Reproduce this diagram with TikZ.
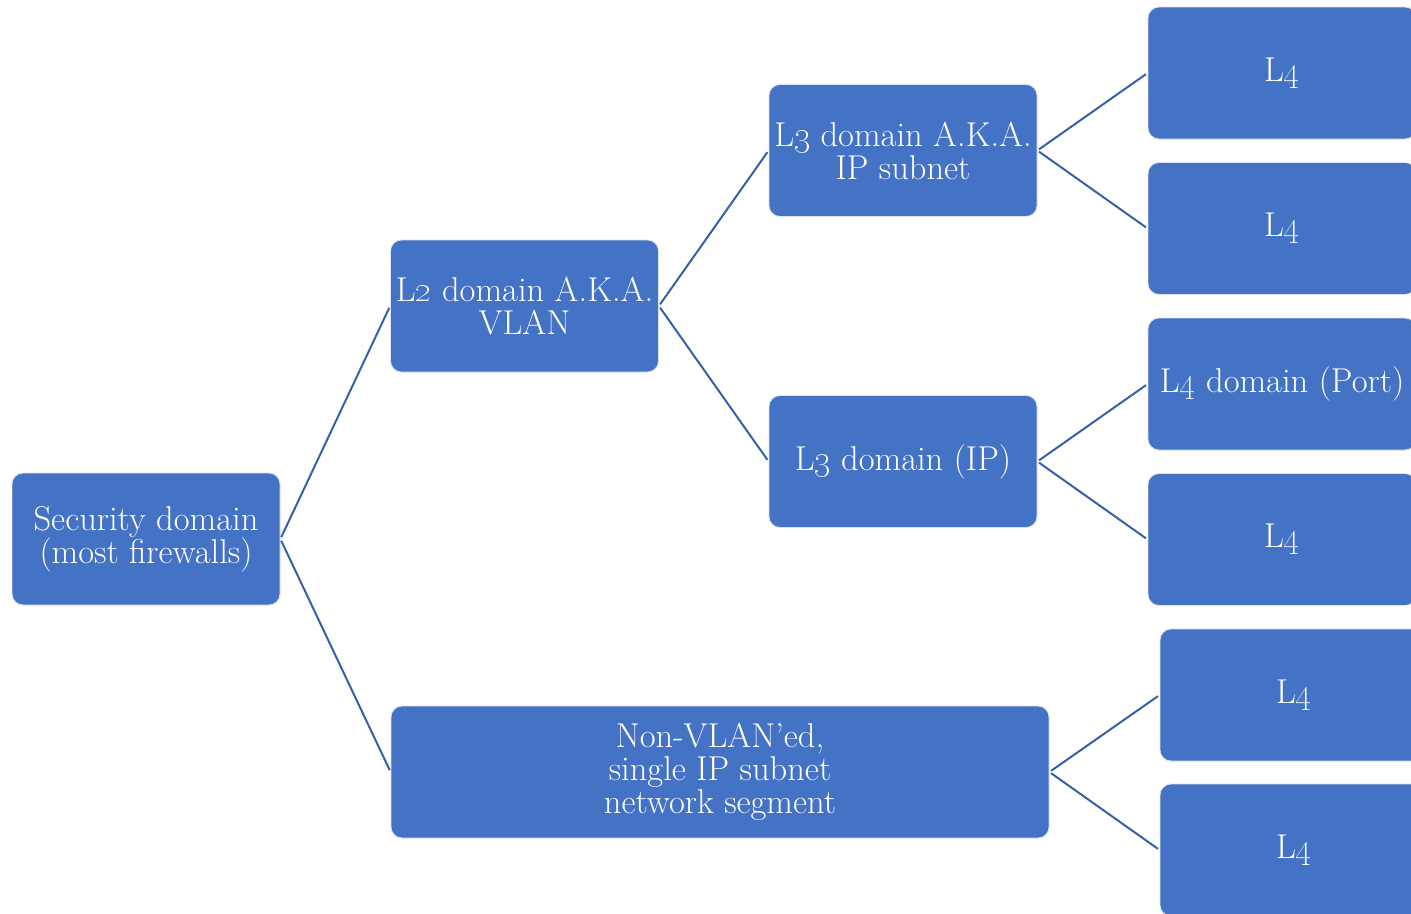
\documentclass[tikz,border=0pt]{standalone}
\definecolor{boxblue}{HTML}{4472C4}
\definecolor{linkblue}{HTML}{3560AA}
\tikzset{
  box/.style={rectangle, rounded corners=11pt, fill=boxblue, draw=white!80!boxblue, line width=0.8pt,
    minimum width=268pt, minimum height=132pt, inner sep=0pt, align=center, text=white,
    font=\fontsize{34.5}{33}\selectfont},
  link/.style={draw=linkblue, line width=2pt, shorten <=2pt, shorten >=2pt}
}
\newcommand{\osn}[1]{\oldstylenums{#1}}
\begin{document}
\begin{tikzpicture}[x=1pt,y=-1pt]
\useasboundingbox (0,0) rectangle (1411,913);
\node[box] (sec) at (146,539) {Security domain\\(most firewalls)};
\node[box] (l2) at (524.5,306) {L\osn{2} domain A.K.A.\\VLAN};
\node[box] (l3a) at (903,150.5) {L\osn{3} domain A.K.A.\\IP subnet};
\node[box] (l3b) at (903,461.5) {L\osn{3} domain (IP)};
\node[box, minimum width=658pt] (nv) at (720,772) {Non-VLAN'ed,\\single IP subnet\\network segment};
\node[box] (a1) at (1282,73) {L\osn{4}};
\node[box] (a2) at (1282,228.5) {L\osn{4}};
\node[box] (b1) at (1282,384) {L\osn{4} domain (Port)};
\node[box] (b2) at (1282,539.5) {L\osn{4}};
\node[box] (c1) at (1294,695) {L\osn{4}};
\node[box] (c2) at (1294,850) {L\osn{4}};
\draw[link] (sec.east) -- (l2.west);
\draw[link] (sec.east) -- (nv.west);
\draw[link] (l2.east) -- (l3a.west);
\draw[link] (l2.east) -- (l3b.west);
\draw[link] (l3a.east) -- (a1.west);
\draw[link] (l3a.east) -- (a2.west);
\draw[link] (l3b.east) -- (b1.west);
\draw[link] (l3b.east) -- (b2.west);
\draw[link] (nv.east) -- (c1.west);
\draw[link] (nv.east) -- (c2.west);
\end{tikzpicture}
\end{document}
